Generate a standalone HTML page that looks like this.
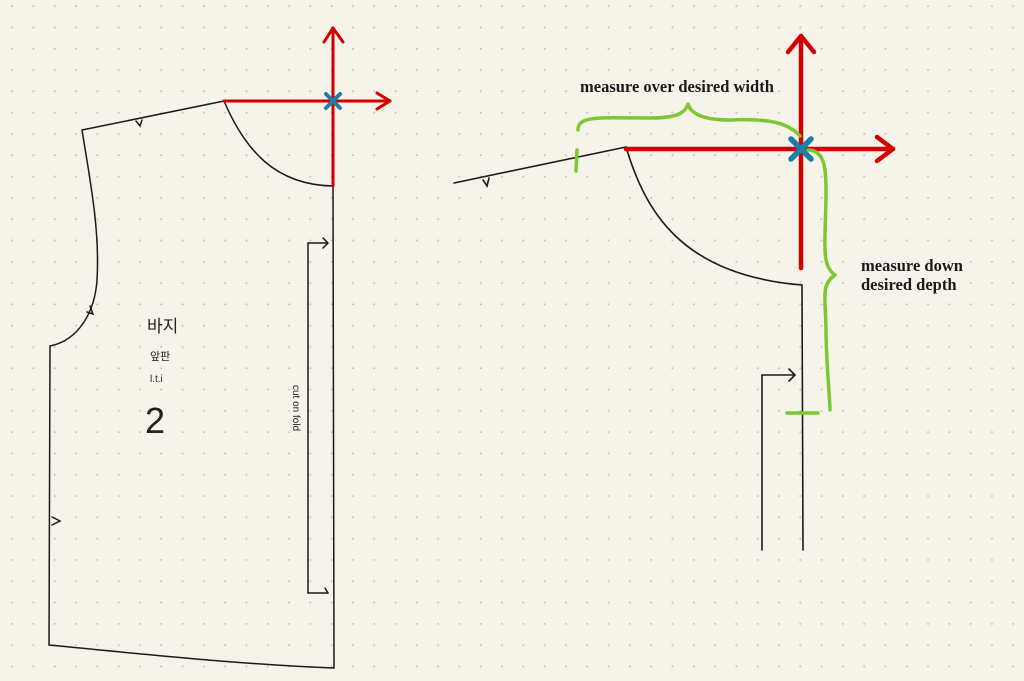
<!DOCTYPE html>
<html><head><meta charset="utf-8"><style>
html,body{margin:0;padding:0;background:#f6f4ea;}
svg{display:block}
</style></head><body>
<svg width="1024" height="681" viewBox="0 0 1024 681" xmlns="http://www.w3.org/2000/svg">
<defs>
<pattern id="dots" x="1.5" y="-4.5" width="21.3" height="21.3" patternUnits="userSpaceOnUse">
<circle cx="10.65" cy="10.65" r="1" fill="#c4c2b8"/>
</pattern>
</defs>
<rect width="1024" height="681" fill="#f6f4ea"/>
<rect width="1024" height="681" fill="url(#dots)"/>

<g fill="none" stroke="#1a1a1a" stroke-width="1.5" stroke-linecap="round">
<path d="M82 130 L224 101"/>
<path d="M224 101 C245 150 275 185 333 186"/>
<path d="M333 186 L334 668"/>
<path d="M82 130 C90 180 100 230 97 280 C95 310 80 340 50 346"/>
<path d="M50 346 L49 645"/>
<path d="M49 645 C150 655 250 665 334 668"/>
<path d="M136 121 l4 5 l2 -6"/>
<path d="M90 306 l3 8 l-6 -2"/>
<path d="M52 517 l8 4 l-8 4"/>
<path d="M308 243 L308 593 L328 593"/>
<path d="M308 243 L328 243 M323 238 l5 5 l-5 5"/>
<path d="M325 588 l3 5"/>
</g>
<text x="147" y="332" font-family="'Liberation Sans','Noto Sans CJK KR',sans-serif" font-size="17" fill="#222">바지</text>
<text x="150" y="360" font-family="'Liberation Sans','Noto Sans CJK KR',sans-serif" font-size="11" fill="#222">앞판</text>
<text x="150" y="382" font-family="'Liberation Sans','Noto Sans CJK KR',sans-serif" font-size="10" fill="#222">l.t.i</text>
<text x="145" y="433" font-family="'Liberation Sans',sans-serif" font-size="36" fill="#222">2</text>
<text transform="translate(293,385) rotate(90)" font-family="'Liberation Sans',sans-serif" font-size="10" fill="#222">cut on fold</text>

<g stroke="#d40000" stroke-width="3" fill="none" stroke-linecap="round" stroke-linejoin="round">
<path d="M224 101 L390 101"/>
<path d="M377 93 L390 101 L377 109"/>
<path d="M333 186 L333 28"/>
<path d="M324 42 L333 28 L343 42"/>
</g>
<g stroke="#1a7fa8" stroke-width="4" stroke-linecap="round">
<path d="M326 94 L340 108 M340 94 L326 108"/>
</g>

<g fill="none" stroke="#1a1a1a" stroke-width="1.6" stroke-linecap="round">
<path d="M454 183 L626 147"/>
<path d="M483 180 l4 6 l2 -8"/>
<path d="M626 147 C645 210 680 275 802 285"/>
<path d="M802 285 L803 550"/>
<path d="M762 375 L762 550"/>
<path d="M762 375 L795 375 M789 369 l6 6 l-6 6"/>
</g>
<g stroke="#d40000" stroke-width="4.5" fill="none" stroke-linecap="round" stroke-linejoin="round">
<path d="M626 149 L893 149"/>
<path d="M877 137 L893 149 L877 161"/>
<path d="M801 268 L801 36"/>
<path d="M788 52 L801 36 L814 52"/>
</g>
<g stroke="#7cc832" stroke-width="3.5" fill="none" stroke-linecap="round" stroke-linejoin="round">
<path d="M577 150 L576 171"/>
<path d="M578 130 C578 115 600 118 650 118 C680 118 685 112 688 104 C690 112 700 120 730 120 C775 118 790 125 800 136"/>
<path d="M808 150 C825 150 826 170 826 190 C826 240 820 265 835 275 C820 285 826 300 826 330 C826 360 830 400 830 410"/>
<path d="M787 413 L818 413"/>
</g>
<g stroke="#1a7fa8" stroke-width="5.5" stroke-linecap="round">
<path d="M791 139 L811 159 M811 139 L791 159"/>
</g>
<g font-family="'Liberation Serif',serif" font-weight="bold" font-size="16.5" fill="#1a1a1a">
<text x="580" y="92">measure over desired width</text>
<text x="861" y="271">measure down</text>
<text x="861" y="290">desired depth</text>
</g>
</svg>
</body></html>
